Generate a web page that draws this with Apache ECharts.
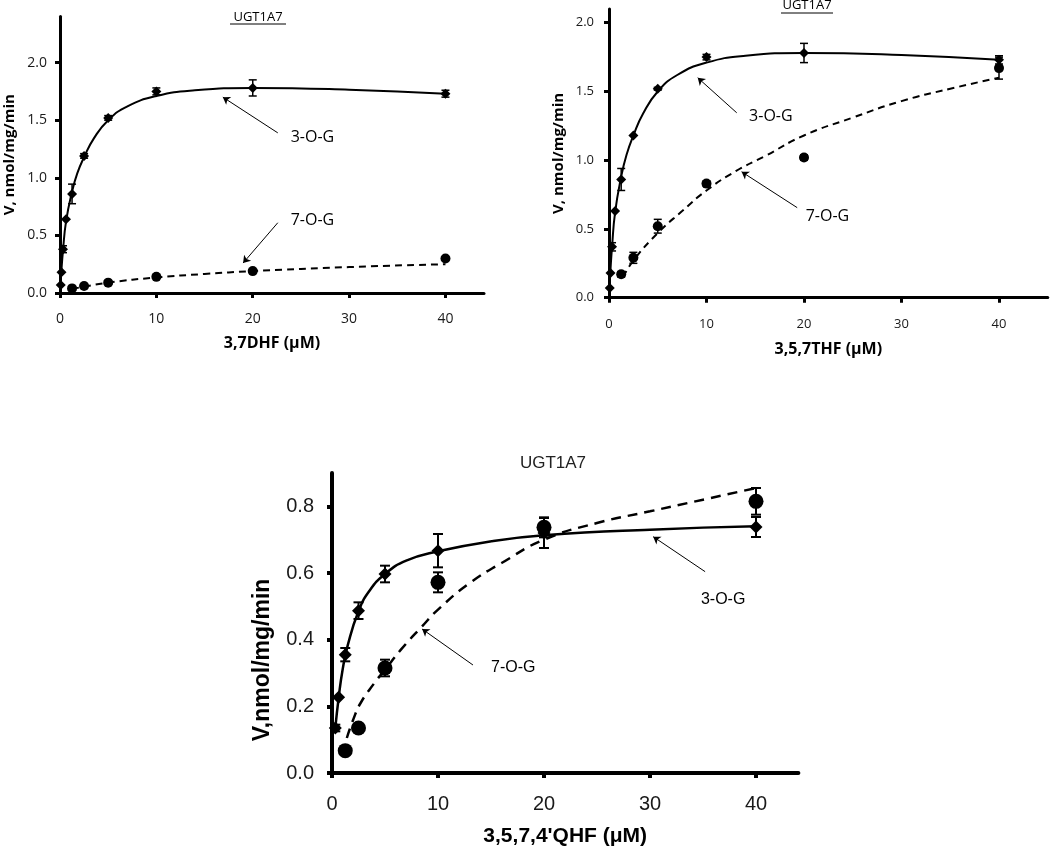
<!DOCTYPE html>
<html><head><meta charset="utf-8">
<script src="https://cdn.jsdelivr.net/npm/echarts@6/dist/echarts.min.js"></script>
<style>html,body{margin:0;padding:0;background:#fff}#c{width:1050px;height:852px}</style>
</head><body><div id="c"></div>
<script>
// ---------- DATA ----------
const concX = [0.078, 0.156, 0.3125, 0.625, 1.25, 2.5, 5, 10, 20, 40];
const xTicks = [0, 10, 20, 30, 40];
const yTicksTop = [0, 0.5, 1.0, 1.5, 2.0];
const yTicksBottom = [0, 0.2, 0.4, 0.6, 0.8];

// Panel A: 3,7DHF
const dhf3OG = [0.07, 0.18, 0.38, 0.64, 0.86, 1.19, 1.52, 1.75, 1.78, 1.73];
const dhf3OGErr = [0, 0, 0.03, 0, 0.085, 0.02, 0.02, 0.03, 0.07, 0.03];
const dhf7X = [1.25, 2.5, 5, 10, 20, 40];
const dhf7OG = [0.04, 0.06, 0.09, 0.14, 0.19, 0.30];
const dhf7OGErr = [0, 0, 0, 0, 0, 0];
const dhfFit3X = [0, 0.15, 0.3125, 0.625, 1.25, 1.8, 2.5, 3.5, 5, 7, 10, 14, 20, 30, 40];
const dhfFit3Y = [0.0, 0.2, 0.37, 0.62, 0.88, 1.04, 1.18, 1.34, 1.50, 1.62, 1.71, 1.76, 1.78, 1.765, 1.73];
const dhfFit7X = [1.25, 2.5, 5, 10, 15, 20, 30, 40];
const dhfFit7Y = [0.035, 0.055, 0.09, 0.135, 0.165, 0.19, 0.225, 0.25];

// Panel B: 3,5,7THF
const thf3OG = [0.07, 0.18, 0.37, 0.63, 0.86, 1.18, 1.52, 1.75, 1.78, 1.73];
const thf3OGErr = [0, 0, 0.03, 0, 0.08, 0, 0.01, 0.02, 0.07, 0.03];
const thf7X = [1.25, 2.5, 5, 10, 20, 40];
const thf7OG = [0.17, 0.29, 0.52, 0.83, 1.02, 1.67];
const thf7OGErr = [0.02, 0.04, 0.05, 0.02, 0.02, 0.08];
const thfFit3X = [0, 0.15, 0.3125, 0.625, 1.25, 1.8, 2.5, 3.5, 5, 7, 10, 14, 20, 30, 40];
const thfFit3Y = [0.0, 0.2, 0.37, 0.62, 0.88, 1.04, 1.18, 1.34, 1.50, 1.62, 1.71, 1.76, 1.78, 1.765, 1.73];
const thfFit7X = [1.45, 2.5, 5, 7.5, 10, 13, 16, 20, 25, 30, 35, 40];
const thfFit7Y = [0.15, 0.27, 0.47, 0.63, 0.78, 0.92, 1.03, 1.18, 1.31, 1.43, 1.52, 1.60];

// Panel C: 3,5,7,4'QHF
const qhf3X = [0.3125, 0.625, 1.25, 2.5, 5, 10, 20, 40];
const qhf3OG = [0.135, 0.227, 0.355, 0.487, 0.597, 0.667, 0.72, 0.738];
const qhf3OGErr = [0.01, 0, 0.02, 0.025, 0.025, 0.05, 0.045, 0.03];
const qhf7X = [1.25, 2.5, 5, 10, 20, 40];
const qhf7OG = [0.067, 0.135, 0.315, 0.572, 0.737, 0.815];
const qhf7OGErr = [0, 0.005, 0.025, 0.03, 0.03, 0.04];
const qhfFit3X = [0.3125, 0.625, 1.0, 1.5, 2.5, 3.5, 5, 7, 10, 15, 20, 30, 40];
const qhfFit3Y = [0.135, 0.225, 0.31, 0.385, 0.485, 0.545, 0.597, 0.637, 0.665, 0.695, 0.713, 0.73, 0.74];
const qhfFit7X = [1.4, 2, 2.7, 4, 5, 6.5, 8.5, 10, 13, 16, 20, 25, 30, 35, 40];
const qhfFit7Y = [0.105, 0.16, 0.21, 0.27, 0.31, 0.37, 0.44, 0.49, 0.57, 0.63, 0.70, 0.75, 0.785, 0.82, 0.855];

// Annotation arrows [x1,y1,x2,y2] and labels [x,y,text] in data units
const dhfArrows = [[22.6, 1.39, 16.9, 1.70], [22.6, 0.61, 19.0, 0.26]];
const dhfLabels = [[26.2, 1.35, '3-O-G'], [26.2, 0.63, '7-O-G']];
const thfArrows = [[13.1, 1.345, 9.1, 1.60], [19.3, 0.655, 13.6, 0.916]];
const thfLabels = [[16.6, 1.32, '3-O-G'], [22.4, 0.59, '7-O-G']];
const qhfArrows = [[35.2, 0.604, 30.3, 0.709], [13.3, 0.324, 8.5, 0.432]];
const qhfLabels = [[36.9, 0.52, '3-O-G'], [17.1, 0.315, '7-O-G']];

// ---------- BUILD ----------
const zip = (xs, ys) => xs.map((x, i) => [x, ys[i]]);
const zipErr = (xs, ys, es) => xs.map((x, i) => [x, ys[i], es[i]]).filter(r => r[2] > 0);

function errSeries(idx, data, cap, lw) {
  return {
    type: 'custom', coordinateSystem: 'cartesian2d', xAxisIndex: idx, yAxisIndex: idx, z: 3, silent: true,
    data: data,
    renderItem: function (params, api) {
      const x = api.value(0), y = api.value(1), e = api.value(2);
      const t = api.coord([x, y + e]), b = api.coord([x, y - e]);
      const st = { stroke: '#000', lineWidth: lw };
      return { type: 'group', children: [
        { type: 'line', shape: { x1: t[0], y1: t[1], x2: b[0], y2: b[1] }, style: st },
        { type: 'line', shape: { x1: t[0] - cap, y1: t[1], x2: t[0] + cap, y2: t[1] }, style: st },
        { type: 'line', shape: { x1: b[0] - cap, y1: b[1], x2: b[0] + cap, y2: b[1] }, style: st }
      ]};
    }
  };
}

function panelSeries(idx, d, s) {
  return [
    { type: 'line', xAxisIndex: idx, yAxisIndex: idx, data: zip(d.f3x, d.f3y), smooth: 0.5,
      symbol: 'none', lineStyle: { color: '#000', width: s.lw }, z: 2, silent: true },
    { type: 'line', xAxisIndex: idx, yAxisIndex: idx, data: zip(d.f7x, d.f7y), smooth: 0.5,
      symbol: 'none', lineStyle: { color: '#000', width: s.lw, type: s.dash }, z: 2, silent: true },
    errSeries(idx, zipErr(d.x3, d.y3, d.e3), s.cap, s.elw),
    errSeries(idx, zipErr(d.x7, d.y7, d.e7), s.cap, s.elw),
    { type: 'scatter', xAxisIndex: idx, yAxisIndex: idx, data: zip(d.x3, d.y3), symbol: 'diamond',
      symbolSize: s.ds, itemStyle: { color: '#000', opacity: 1 }, z: 4, silent: true },
    { type: 'scatter', xAxisIndex: idx, yAxisIndex: idx, data: zip(d.x7, d.y7), symbol: 'circle',
      symbolSize: s.cs, itemStyle: { color: '#000', opacity: 1 }, z: 4, silent: true },
    { type: 'scatter', xAxisIndex: idx, yAxisIndex: idx, data: d.labels, symbolSize: 0,
      itemStyle: { color: '#000', opacity: 1 }, z: 5, silent: true,
      label: { show: true, position: 'inside', formatter: p => p.value[2], color: '#000', opacity: 1,
        textBorderWidth: 0, fontFamily: s.font, fontSize: s.annFs },
      markLine: { silent: true, symbol: ['none', 'arrow'], symbolSize: 7, animation: false,
        lineStyle: { color: '#000', width: 1, type: 'solid', opacity: 1 }, label: { show: false },
        data: d.arrows.map(a => [{ coord: [a[0], a[1]] }, { coord: [a[2], a[3]] }]) } }
  ];
}

function xAxis(idx, max, s, name, gap) {
  return { type: 'value', gridIndex: idx, min: 0, max: max, position: 'bottom',
    name: name, nameLocation: 'middle', nameGap: gap,
    nameTextStyle: { fontFamily: s.font, fontSize: s.xNameFs, fontWeight: 'bold', color: '#000' },
    axisLine: { show: true, onZero: false, lineStyle: { color: '#000', width: s.alw } },
    axisTick: { show: true, inside: false, length: 5, lineStyle: { color: '#000', width: s.alw }, customValues: xTicks },
    axisLabel: { customValues: xTicks, fontFamily: s.font, fontSize: s.tickFs, color: '#1a1a1a', margin: s.xMargin },
    splitLine: { show: false } };
}
function yAxis(idx, max, ticks, s, name, gap, pad) {
  return { type: 'value', gridIndex: idx, min: 0, max: max,
    name: name, nameLocation: 'middle', nameGap: gap,
    nameTextStyle: { fontFamily: s.font, fontSize: s.yNameFs, fontWeight: 'bold', color: '#000', padding: pad || 0 },
    axisLine: { show: true, onZero: false, lineStyle: { color: '#000', width: s.alw } },
    axisTick: { show: true, inside: false, length: 5, lineStyle: { color: '#000', width: s.alw }, customValues: ticks },
    axisLabel: { customValues: ticks, formatter: v => Number(v).toFixed(1), fontFamily: s.font, fontSize: s.tickFs,
      color: '#1a1a1a', margin: s.yMargin },
    splitLine: { show: false } };
}

const topStyle = { font: 'Open Sans', lw: 2, dash: [7, 5], cap: 4, elw: 1.5, ds: 10, cs: 10, annFs: 16,
  xNameFs: 16, yNameFs: 15, tickFs: 14, alw: 3, xMargin: 19, yMargin: 13 };
const topStyleB = Object.assign({}, topStyle, { tickFs: 13, yMargin: 15, xMargin: 20 });
const botStyle = { font: 'Liberation Sans', lw: 2.5, dash: [10, 7], cap: 5, elw: 2, ds: 13, cs: 15, annFs: 16,
  xNameFs: 21, yNameFs: 23, tickFs: 20, alw: 4, xMargin: 21, yMargin: 18 };

const dA = { x3: concX, y3: dhf3OG, e3: dhf3OGErr, x7: dhf7X, y7: dhf7OG, e7: dhf7OGErr,
  f3x: dhfFit3X, f3y: dhfFit3Y, f7x: dhfFit7X, f7y: dhfFit7Y, arrows: dhfArrows, labels: dhfLabels };
const dB = { x3: concX, y3: thf3OG, e3: thf3OGErr, x7: thf7X, y7: thf7OG, e7: thf7OGErr,
  f3x: thfFit3X, f3y: thfFit3Y, f7x: thfFit7X, f7y: thfFit7Y, arrows: thfArrows, labels: thfLabels };
const dC = { x3: qhf3X, y3: qhf3OG, e3: qhf3OGErr, x7: qhf7X, y7: qhf7OG, e7: qhf7OGErr,
  f3x: qhfFit3X, f3y: qhfFit3Y, f7x: qhfFit7X, f7y: qhfFit7Y, arrows: qhfArrows, labels: qhfLabels };

const chart = echarts.init(document.getElementById('c'), null, { renderer: 'canvas' });
chart.setOption({
  backgroundColor: '#fff',
  animation: false,
  grid: [
    { left: 60, top: 16.5, width: 424, height: 276.5, outerBoundsMode: 'none', containLabel: false },
    { left: 609, top: 9, width: 438.75, height: 288.7, outerBoundsMode: 'none', containLabel: false },
    { left: 332, top: 473, width: 466.4, height: 300, outerBoundsMode: 'none', containLabel: false }
  ],
  xAxis: [
    xAxis(0, 44, topStyle, '3,7DHF (\u03BCM)', 42),
    xAxis(1, 45, topStyleB, '3,5,7THF (\u03BCM)', 44),
    xAxis(2, 44, botStyle, "3,5,7,4'QHF (\u03BCM)", 53)
  ],
  yAxis: [
    yAxis(0, 2.4, yTicksTop, topStyle, 'V, nmol/mg/min', 43),
    yAxis(1, 2.1, yTicksTop, topStyleB, 'V, nmol/mg/min', 43),
    yAxis(2, 0.9, yTicksBottom, botStyle, 'V,nmol/mg/min', 58, [0, 74, 0, 0])
  ],
  graphic: [
    { type: 'text', x: 258, y: 17, silent: true,
      style: { text: 'UGT1A7', font: '13px "Open Sans"', fill: '#000', textAlign: 'center', textVerticalAlign: 'middle', align: 'center', verticalAlign: 'middle' } },
    { type: 'line', silent: true, shape: { x1: 230, y1: 24, x2: 286, y2: 24 }, style: { stroke: '#000', lineWidth: 1 } },
    { type: 'text', x: 807, y: 5, silent: true,
      style: { text: 'UGT1A7', font: '13px "Open Sans"', fill: '#000', textAlign: 'center', textVerticalAlign: 'middle', align: 'center', verticalAlign: 'middle' } },
    { type: 'line', silent: true, shape: { x1: 781, y1: 13, x2: 833, y2: 13 }, style: { stroke: '#000', lineWidth: 1 } },
    { type: 'text', x: 553, y: 463, silent: true,
      style: { text: 'UGT1A7', font: '17px "Liberation Sans"', fill: '#222', textAlign: 'center', textVerticalAlign: 'middle', align: 'center', verticalAlign: 'middle' } }
  ],
  series: [].concat(panelSeries(0, dA, topStyle), panelSeries(1, dB, topStyleB), panelSeries(2, dC, botStyle))
});
</script></body></html>
